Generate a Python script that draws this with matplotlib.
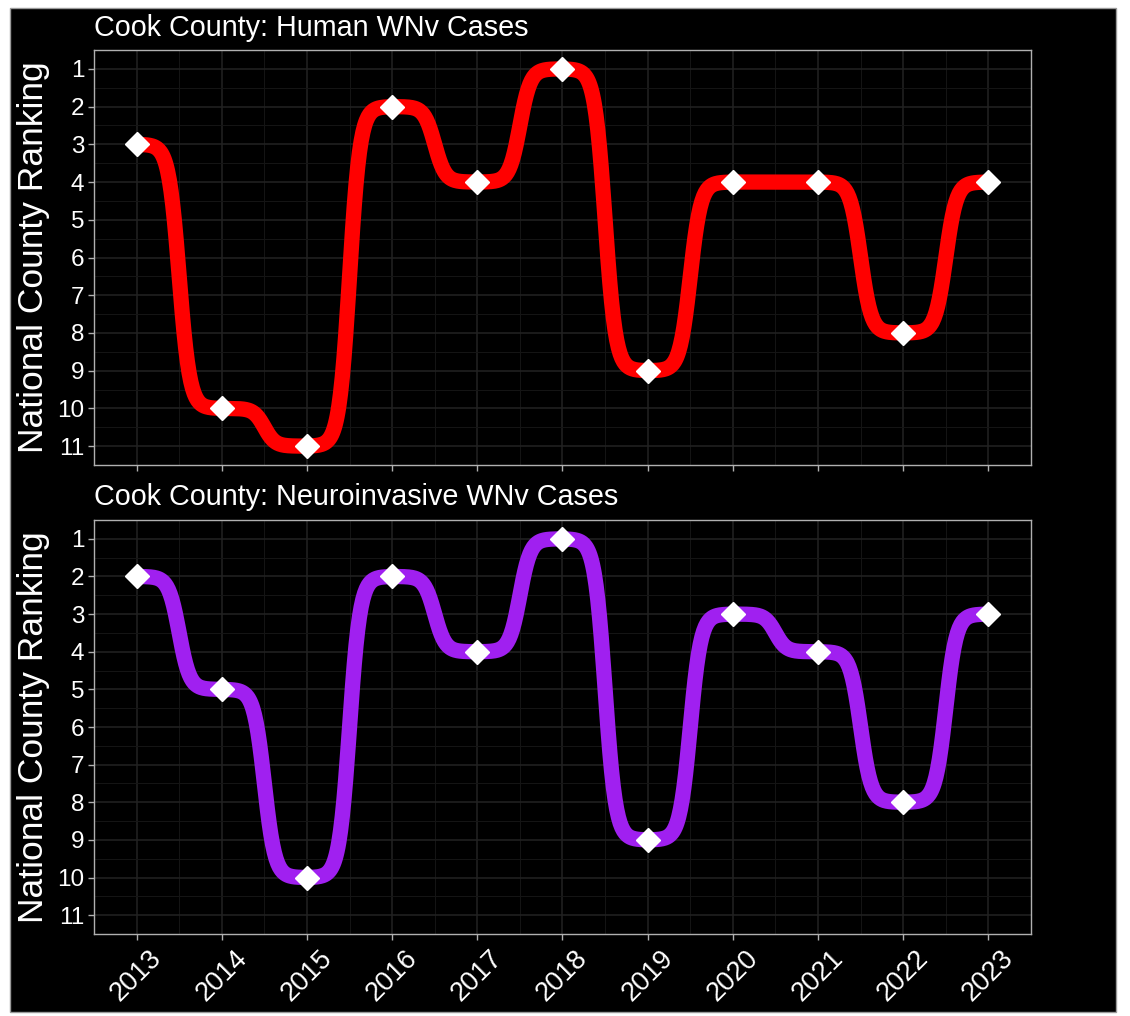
import numpy as np
import matplotlib
matplotlib.use("Agg")
import matplotlib.pyplot as plt
from matplotlib.patches import Rectangle

plt.rcParams['font.family'] = ['Liberation Sans', 'DejaVu Sans']

years = [2013, 2014, 2015, 2016, 2017, 2018, 2019, 2020, 2021, 2022, 2023]
human_rank = [3, 10, 11, 2, 4, 1, 9, 4, 4, 8, 4]
neuro_rank = [2, 5, 10, 2, 4, 1, 9, 3, 4, 8, 3]
titles = ["Cook County: Human WNv Cases", "Cook County: Neuroinvasive WNv Cases"]
colors = ["#FF0000", "#A020F0"]
ylabel = "National County Ranking"


def bump(xs, ys, smooth=8, n=100):
    t = np.linspace(-smooth, smooth, n)
    s = np.exp(t) / (np.exp(t) + 1)
    X, Y = [], []
    for i in range(len(xs) - 1):
        X.append((t + smooth) / (2 * smooth) * (xs[i + 1] - xs[i]) + xs[i])
        Y.append(s * (ys[i + 1] - ys[i]) + ys[i])
    return np.concatenate(X), np.concatenate(Y)


W, H = 1130, 1016
fig = plt.figure(figsize=(W / 100, H / 100), dpi=100, facecolor='white')
fig.patches.append(Rectangle((10 / W, 4 / H), (1116 - 10) / W, (1012 - 8) / H,
                             transform=fig.transFigure, facecolor='black',
                             edgecolor='#9a9a9a', lw=1, zorder=-10))

boxes = [(50, 465), (520, 934)]
title_y = [28, 497]
for k, (data, col) in enumerate(zip([human_rank, neuro_rank], colors)):
    top, bot = boxes[k]
    ax = fig.add_axes([94 / W, 1 - bot / H, (1031 - 94) / W, (bot - top) / H])
    ax.set_facecolor('black')
    x, y = bump(years, data)
    ax.plot(x, y, color=col, lw=11, solid_capstyle='butt', zorder=3)
    ax.plot(years, data, linestyle='none', marker='D', ms=12.2, mfc='white',
            mec='white', zorder=4)
    ax.set_xlim(2012.5, 2023.5)
    ax.set_ylim(11.5, 0.5)
    ax.set_yticks(range(1, 12))
    ax.set_xticks(years)
    ax.set_xticks(np.arange(2012.5, 2023.6, 1.0), minor=True)
    ax.set_yticks(np.arange(0.5, 11.6, 1.0), minor=True)
    ax.grid(True, which='major', color='#222222', lw=1.1, zorder=0)
    ax.grid(True, which='minor', color='#151515', lw=0.7, zorder=0)
    ax.set_axisbelow(True)
    for sp in ax.spines.values():
        sp.set_color('#b0b0b0')
        sp.set_linewidth(1.0)
    ax.tick_params(which='major', colors='#b0b0b0', length=4, width=1,
                   labelcolor='white', labelsize=17.5, pad=3)
    ax.tick_params(which='minor', length=0)
    if k == 0:
        ax.set_xticklabels([])
    else:
        ax.set_xticklabels([str(v) for v in years], rotation=45, ha='center',
                           va='top', fontsize=19.5)
        ax.tick_params(axis='x', pad=4)
    ax.set_ylabel(ylabel, color='white', fontsize=25.5, labelpad=8)
    ax.yaxis.set_label_coords(-(94 - 50) / (1031 - 94), 0.5)
    fig.text(94 / W, 1 - title_y[k] / H, titles[k], color='white', fontsize=20.7,
             ha='left', va='center')

fig.savefig('out.png', dpi=100, facecolor=fig.get_facecolor())
